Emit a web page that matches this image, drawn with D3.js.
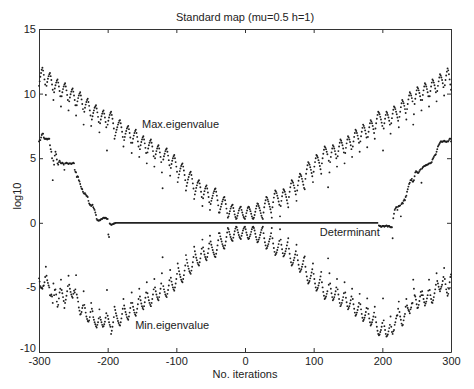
<!DOCTYPE html>
<html>
<head>
<meta charset="utf-8">
<script src="https://cdn.jsdelivr.net/npm/d3@7"></script>
<style>
    body { margin: 0; background: #fff; }
    svg text { font-family: "Liberation Sans", Arial, Helvetica, sans-serif; fill: #222; }
</style>
</head>
<body>
<svg id="viz-svg" width="474" height="389"></svg>
<script>
// Page Variables
let width = 474, height = 389;
let padding = {top: 29, bottom: 37, left: 39, right: 23};

let title = "Standard map (mu=0.5 h=1)";
let xLabel = "No. iterations";
let yLabel = "log10";

let xDomain = [-300, 300];
let yDomain = [-10, 15];
let xTicks = [-300, -200, -100, 0, 100, 200, 300];
let yTicks = [-10, -5, 0, 5, 10, 15];

// each row: [first iteration, value at that iteration, value at next iteration, ...]
let maxEigenRows = [
    [-300, 10.6, 10.95, 11.3, 11.6, 11.85],
    [-295, 12.0, 11.78, 11.45, 11.1, 10.7, 9.9, 10.6, 10.9, 11.15, 11.35, 11.5],
    [-284, 11.6, 11.35, 11.05, 10.7, 10.3, 9.5, 10.1, 10.4, 10.65, 10.85, 11.0],
    [-273, 11.1, 10.85, 10.55, 10.2, 9.8, 9.0, 9.8, 10.1, 10.35, 10.55, 10.7],
    [-262, 10.8, 10.55, 10.25, 9.9, 9.5, 8.7, 9.4, 9.7, 9.95, 10.15, 10.3],
    [-251, 10.4, 10.15, 9.85, 9.5, 9.1, 8.3, 9.1, 9.4, 9.65, 9.85, 10.0],
    [-240, 10.1, 9.85, 9.55, 9.2, 8.8, 7.6, 8.6, 8.9, 9.15, 9.35, 9.5],
    [-229, 9.6, 9.35, 9.05, 8.7, 8.3, 7.5, 8.0, 8.25, 8.5, 8.7, 8.9, 9.0],
    [-217, 9.1, 8.85, 8.55, 8.2, 7.8, 7.0, 7.7, 8.0, 8.25, 8.45, 8.6],
    [-206, 8.7, 8.45, 8.15, 7.8, 7.4, 5.6, 7.6, 7.9, 8.15, 8.35, 8.5],
    [-195, 8.6, 8.35, 8.05, 7.7, 7.3, 6.5, 6.75, 7.0, 7.2, 7.4, 7.6, 7.75, 7.9],
    [-182, 7.95, 7.7, 7.4, 7.05, 6.65, 5.9, 6.4, 6.65, 6.9, 7.1, 7.3, 7.42],
    [-170, 7.5, 7.25, 6.95, 6.6, 6.2, 5.4, 6.2, 6.5, 6.75, 6.95, 7.1],
    [-159, 7.2, 6.95, 6.65, 6.3, 5.9, 5.1, 5.7, 6.0, 6.25, 6.45, 6.6],
    [-148, 6.7, 6.45, 6.15, 5.8, 5.4, 4.6, 5.45, 5.75, 6.0, 6.2, 6.35],
    [-137, 6.45, 6.2, 5.9, 5.55, 5.15, 4.35, 5.0, 5.3, 5.55, 5.75, 5.9],
    [-126, 6.0, 5.75, 5.45, 5.1, 4.7, 3.9, 2.67, 4.9, 5.15, 5.35, 5.55, 5.67],
    [-114, 5.75, 5.5, 5.2, 4.85, 4.45, 3.65, 4.25, 4.55, 4.8, 5.0, 5.15],
    [-103, 5.25, 5.0, 4.7, 4.35, 3.95, 3.15, 3.5, 3.75, 4.0, 4.2, 4.4, 4.52],
    [-91, 4.6, 4.35, 4.05, 3.7, 3.3, 2.5, 2.85, 3.1, 3.35, 3.55, 3.75, 3.87],
    [-79, 3.95, 3.7, 3.4, 3.05, 2.65, 1.85, 2.2, 2.45, 2.7, 2.9, 3.1, 3.22],
    [-67, 3.3, 3.05, 2.75, 2.4, 2.0, 1.3, 1.9, 2.2, 2.45, 2.65, 2.8],
    [-56, 2.9, 2.65, 2.35, 2.0, 1.6, 1.0, 1.45, 1.7, 1.9, 2.1, 2.3, 2.45, 2.6],
    [-43, 2.65, 2.4, 2.1, 1.75, 1.35, 0.8, 0.8, 1.05, 1.25, 1.45, 1.65, 1.8, 1.95],
    [-30, 2.0, 1.75, 1.45, 1.1, 0.75, 0.4, 0.5, 0.7, 0.9, 1.1, 1.25, 1.35],
    [-18, 1.4, 1.15, 0.9, 0.65, 0.45, 0.3, 0.35, 0.55, 0.75, 0.95, 1.1, 1.2],
    [-6, 1.25, 1.0, 0.8, 0.6, 0.45, 0.35, 0.3, 0.5, 0.75, 0.95, 1.15],
    [5, 1.25, 1.2, 1.05, 0.9, 0.7, 0.5, 0.35, 0.3, 0.4, 0.6, 0.85, 1.1, 1.3],
    [18, 1.5, 1.45, 1.3, 1.15, 0.95, 0.75, 0.55, 0.4, 0.3, 0.8, 1.2, 1.5, 1.75],
    [31, 2.0, 1.95, 1.8, 1.65, 1.45, 1.25, 1.05, 0.8, 0.4, 1.2, 1.6, 1.95, 2.25],
    [44, 2.5, 2.42, 2.3, 2.1, 1.9, 1.65, 1.4, 0.5, 1.3, 1.7, 2.05, 2.35],
    [56, 2.6, 2.52, 2.4, 2.2, 2.0, 1.75, 1.5, 1.2, 2.0, 2.4, 2.75, 3.05],
    [68, 3.3, 3.22, 3.1, 2.9, 2.7, 2.45, 2.2, 1.7, 2.5, 2.9, 3.25, 3.55],
    [80, 3.8, 3.72, 3.6, 3.4, 3.2, 2.95, 2.7, 2.6, 3.4, 3.8, 4.15, 4.45],
    [92, 4.7, 4.62, 4.5, 4.3, 4.1, 3.85, 3.6, 3.15, 3.95, 4.35, 4.7, 5.0],
    [104, 5.25, 5.17, 5.05, 4.85, 4.65, 4.4, 4.15, 3.8, 4.6, 5.0, 5.35, 5.65],
    [116, 5.9, 5.82, 5.7, 5.5, 5.3, 2.75, 4.8, 3.9, 4.7, 5.1, 5.45, 5.75],
    [128, 6.0, 5.9, 5.75, 5.55, 5.3, 5.0, 4.35, 5.15, 5.55, 5.9, 6.2],
    [139, 6.45, 6.35, 6.2, 6.0, 5.75, 5.45, 4.6, 5.4, 5.8, 6.15, 6.45],
    [150, 6.7, 6.6, 6.45, 6.25, 6.0, 5.7, 5.1, 5.9, 6.3, 6.65, 6.95],
    [161, 7.2, 7.1, 6.95, 6.75, 6.5, 6.2, 5.5, 6.3, 6.7, 7.05, 7.35],
    [172, 7.6, 7.5, 7.35, 7.15, 6.9, 6.6, 5.85, 6.65, 7.05, 7.4, 7.7],
    [183, 7.95, 7.85, 7.7, 7.5, 7.25, 6.95, 6.5, 7.3, 7.7, 8.05, 8.35],
    [194, 8.6, 8.52, 8.4, 8.2, 8.0, 7.75, 7.5, 5.6, 7.3, 7.7, 8.05, 8.35],
    [206, 8.6, 8.5, 8.35, 8.15, 7.9, 7.6, 6.9, 7.7, 8.1, 8.45, 8.75],
    [217, 9.0, 8.92, 8.8, 8.6, 8.4, 8.15, 7.9, 7.4, 8.2, 8.6, 8.95, 9.25],
    [229, 9.5, 9.4, 9.25, 9.05, 8.8, 8.5, 8.0, 8.8, 9.2, 9.55, 9.85],
    [240, 10.1, 10.0, 9.85, 9.65, 9.4, 7.6, 8.4, 9.2, 9.6, 9.95, 10.25],
    [251, 10.5, 10.4, 10.25, 10.05, 9.8, 9.5, 8.7, 9.5, 9.9, 10.25, 10.55],
    [262, 10.8, 10.7, 10.55, 10.35, 10.1, 9.8, 9.0, 9.8, 10.2, 10.55, 10.85],
    [273, 11.1, 11.0, 10.85, 10.65, 10.4, 10.1, 9.4, 10.2, 10.6, 10.95, 11.25],
    [284, 11.5, 11.4, 11.25, 11.05, 10.8, 10.5, 9.85, 10.65, 11.05, 11.4, 11.7],
    [295, 11.95, 11.8, 11.5, 11.1, 10.7, 10.3]
];

let minEigenRows = [
    [-300, -4.3, -4.55, -4.9, -5.0, -5.05],
    [-295, -5.1, -4.9, -4.85, -4.6, -4.2, -3.4, -4.1, -4.45, -4.65, -4.85, -5.0],
    [-284, -5.6, -5.65, -5.55, -5.7, -6.2, -4.7, -5.6, -5.2, -5.15, -5.55, -6.1],
    [-273, -6.5, -6.35, -5.85, -5.4, -5.1, -4.4, -5.2, -5.45, -5.75, -6.05, -6.6],
    [-262, -6.2, -5.95, -5.65, -5.3, -4.9, -4.1, -4.8, -5.1, -5.35, -5.55, -5.7],
    [-251, -5.8, -5.5, -5.25, -5.4, -5.15, -4.05, -5.55, -5.8, -6.1, -6.55, -6.8],
    [-240, -7.1, -7.05, -6.9, -6.6, -6.4, -5.3, -6.35, -6.6, -6.95, -7.25, -7.45],
    [-229, -7.6, -7.65, -7.55, -7.3, -6.9, -6.2, -6.65, -6.85, -7.3, -7.5, -7.7, -7.85],
    [-217, -8.0, -8.1, -7.9, -7.7, -7.4, -6.7, -7.3, -7.5, -7.7, -7.9, -8.05],
    [-206, -8.0, -7.85, -7.65, -7.35, -7.0, -5.2, -7.2, -7.45, -7.7, -7.9, -8.05],
    [-195, -8.6, -8.35, -8.05, -7.7, -7.3, -6.5, -6.75, -7.0, -7.2, -7.4, -7.6, -7.75, -7.9],
    [-182, -7.95, -7.7, -7.4, -7.05, -6.65, -5.9, -6.4, -6.65, -6.9, -7.1, -7.3, -7.42],
    [-170, -7.5, -7.25, -6.95, -6.6, -6.2, -5.4, -6.2, -6.5, -6.75, -6.95, -7.1],
    [-159, -7.2, -6.95, -6.65, -6.3, -5.9, -5.1, -5.7, -6.0, -6.25, -6.45, -6.6],
    [-148, -6.7, -6.45, -6.15, -5.8, -5.4, -4.6, -5.45, -5.75, -6.0, -6.2, -6.35],
    [-137, -6.45, -6.2, -5.9, -5.55, -5.15, -4.35, -5.0, -5.3, -5.55, -5.75, -5.9],
    [-126, -6.0, -5.75, -5.45, -5.1, -4.7, -3.9, -2.67, -4.9, -5.15, -5.35, -5.55, -5.67],
    [-114, -5.75, -5.5, -5.2, -4.85, -4.45, -3.65, -4.25, -4.55, -4.8, -5.0, -5.15],
    [-103, -5.25, -5.0, -4.7, -4.35, -3.95, -3.15, -3.5, -3.75, -4.0, -4.2, -4.4, -4.52],
    [-91, -4.6, -4.35, -4.05, -3.7, -3.3, -2.5, -2.85, -3.1, -3.35, -3.55, -3.75, -3.87],
    [-79, -3.95, -3.7, -3.4, -3.05, -2.65, -1.85, -2.2, -2.45, -2.7, -2.9, -3.1, -3.22],
    [-67, -3.3, -3.05, -2.75, -2.4, -2.0, -1.3, -1.9, -2.2, -2.45, -2.65, -2.8],
    [-56, -2.9, -2.65, -2.35, -2.0, -1.6, -1.0, -1.45, -1.7, -1.9, -2.1, -2.3, -2.45, -2.6],
    [-43, -2.65, -2.4, -2.1, -1.75, -1.35, -0.8, -0.8, -1.05, -1.25, -1.45, -1.65, -1.8, -1.95],
    [-30, -2.0, -1.75, -1.45, -1.1, -0.75, -0.4, -0.5, -0.7, -0.9, -1.1, -1.25, -1.35],
    [-18, -1.4, -1.15, -0.9, -0.65, -0.45, -0.3, -0.35, -0.55, -0.75, -0.95, -1.1, -1.2],
    [-6, -1.25, -1.0, -0.8, -0.6, -0.45, -0.35, -0.3, -0.5, -0.75, -0.95, -1.15],
    [5, -1.25, -1.2, -1.05, -0.9, -0.7, -0.5, -0.35, -0.3, -0.4, -0.6, -0.85, -1.1, -1.3],
    [18, -1.5, -1.45, -1.3, -1.15, -0.95, -0.75, -0.55, -0.4, -0.3, -0.8, -1.2, -1.5, -1.75],
    [31, -2.0, -1.95, -1.8, -1.65, -1.45, -1.25, -1.05, -0.8, -0.4, -1.2, -1.6, -1.95, -2.25],
    [44, -2.5, -2.42, -2.3, -2.1, -1.9, -1.65, -1.4, -0.5, -1.3, -1.7, -2.05, -2.35],
    [56, -2.6, -2.52, -2.4, -2.2, -2.0, -1.75, -1.5, -1.2, -2.0, -2.4, -2.75, -3.05],
    [68, -3.3, -3.22, -3.1, -2.9, -2.7, -2.45, -2.2, -1.7, -2.5, -2.9, -3.25, -3.55],
    [80, -3.8, -3.72, -3.6, -3.4, -3.2, -2.95, -2.7, -2.6, -3.4, -3.8, -4.15, -4.45],
    [92, -4.7, -4.62, -4.5, -4.3, -4.1, -3.85, -3.6, -3.15, -3.95, -4.35, -4.7, -5.0],
    [104, -5.25, -5.17, -5.05, -4.85, -4.65, -4.4, -4.15, -3.8, -4.6, -5.0, -5.35, -5.65],
    [116, -5.9, -5.82, -5.7, -5.5, -5.3, -2.75, -4.8, -3.9, -4.7, -5.1, -5.45, -5.75],
    [128, -6.0, -5.9, -5.75, -5.55, -5.3, -5.0, -4.35, -5.15, -5.55, -5.9, -6.2],
    [139, -6.45, -6.35, -6.2, -6.0, -5.75, -5.45, -4.6, -5.4, -5.8, -6.15, -6.45],
    [150, -6.7, -6.6, -6.45, -6.25, -6.0, -5.7, -5.1, -5.9, -6.3, -6.65, -6.95],
    [161, -7.2, -7.1, -6.95, -6.75, -6.5, -6.2, -5.5, -6.3, -6.7, -7.05, -7.35],
    [172, -7.6, -7.5, -7.35, -7.15, -6.9, -6.6, -5.85, -6.65, -7.05, -7.4, -7.7],
    [183, -7.95, -7.85, -7.7, -7.5, -7.25, -6.95, -6.5, -7.3, -7.7, -8.05, -8.35],
    [194, -8.6, -8.7, -8.65, -8.45, -8.3, -8.05, -7.75, -5.85, -7.55, -8.0, -8.3, -8.6],
    [206, -8.8, -8.75, -8.65, -8.4, -8.15, -7.9, -7.25, -8.05, -8.45, -8.6, -8.4],
    [217, -8.3, -7.9, -7.7, -7.4, -7.2, -7.15, -6.65, -6.1, -6.9, -7.25, -7.5, -7.8],
    [229, -7.95, -7.9, -7.55, -7.25, -7.05, -6.5, -5.9, -6.4, -6.6, -6.75, -6.85],
    [240, -7.0, -6.7, -6.55, -6.25, -6.2, -4.4, -5.1, -5.6, -5.7, -5.95, -6.3],
    [251, -6.6, -6.55, -6.35, -6.05, -5.7, -5.35, -5.6, -5.3, -5.6, -5.9, -6.15],
    [262, -6.4, -6.25, -6.1, -5.85, -5.6, -5.25, -4.4, -5.2, -5.6, -5.9, -6.15],
    [273, -6.2, -6.0, -5.75, -5.45, -5.15, -4.8, -3.9, -4.5, -4.7, -4.95, -5.15],
    [284, -5.3, -5.1, -4.95, -4.8, -4.5, -4.2, -3.5, -4.35, -4.75, -5.15, -5.4],
    [295, -5.65, -5.5, -5.1, -4.6, -4.2, -4.0]
];

let determinantRows = [
    [-300, 6.3, 6.4, 6.4, 6.6, 6.8, 6.9, 6.9, 6.6, 6.5, 6.5],
    [-290, 6.5, 6.5, 6.45, 6.5, 6.5, 6.5, 6.0, 5.7, 5.5, 5.0],
    [-280, 3.3, 4.8, 4.5, 5.2, 5.5, 5.3, 4.9, 4.6, 4.5, 4.7],
    [-270, 4.8, 4.7, 4.6, 4.6, 4.65, 4.6, 4.5, 4.1, 4.6, 4.6],
    [-260, 4.65, 4.6, 4.6, 4.55, 4.6, 4.6, 4.6, 4.55, 4.6, 4.6],
    [-250, 4.65, 4.6, 4.1, 3.95, 3.9, 3.55, 3.6, 3.55, 3.3, 3.2],
    [-240, 3.0, 2.8, 2.65, 2.6, 2.4, 2.3, 2.25, 2.3, 2.2, 2.1],
    [-230, 2.05, 2.0, 1.7, 1.5, 1.4, 1.4, 1.3, 1.35, 1.4, 1.2],
    [-220, 1.1, 1.0, 0.8, 0.6, 0.3, 0.2, 0.2, 0.15, 0.2, 0.2],
    [-210, 0.25, 0.3, 0.3, 0.35, 0.4, 0.4, 0.35, 0.4, 0.35, 0.3],
    [-200, 0.3, -0.9, -1.1, -0.05, -0.1, -0.15, -0.15, -0.1, -0.1, -0.05],
    [-190, -0.05, -0.02],
    [195, -0.2, -0.25, -0.25, -0.3, -0.3, -0.25, -0.25, -0.25, -0.3, -0.25],
    [205, -0.25, -0.2, -0.25, -0.3, -0.25, -0.25, -0.3, -0.35, -0.35, -0.35],
    [215, -1.2, 0.35, 0.7, 1.0, 1.1, 1.2, 1.2, 1.0, 1.25, 1.3],
    [225, 1.3, 1.35, 0.5, 1.45, 1.55, 1.5, 1.7, 1.8, 1.75, 2.0],
    [235, 2.1, 2.4, 2.6, 2.8, 3.0, 3.1, 3.3, 3.3, 3.4, 3.2],
    [245, 3.2, 3.3, 3.6, 3.9, 4.0, 3.95, 3.9, 3.85, 3.9, 4.0],
    [255, 4.1, 4.15, 3.1, 4.2, 4.3, 4.35, 4.4, 4.4, 4.45, 4.45],
    [265, 4.5, 4.5, 4.55, 4.6, 4.6, 4.6, 4.65, 4.7, 4.9, 5.0],
    [275, 5.1, 5.2, 5.25, 5.3, 5.5, 5.7, 5.9, 6.0, 6.1, 6.2],
    [285, 6.3, 6.3, 6.25, 6.3, 6.3, 6.35, 6.3, 6.3, 6.25, 6.3],
    [295, 6.3, 6.3, 6.4, 6.5, 6.5, 6.3]
];

// determinant stays at log10 = 0 over the middle stretch
let determinantFlat = [[-189, 0], [194, 0]];

let annotations = [
    {text: "Max.eigenvalue", it: -150, v: 7.3},
    {text: "Determinant", it: 109, v: -1.05},
    {text: "Min.eigenvalue", it: -160, v: -8.25},
];

// rows -> points
function toPoints(rows) {
    return rows.flatMap(r => r.slice(1).map((v, k) => ({it: r[0] + k, v: v})));
}

// plain hyphen for negative tick labels, like the original print
let plainFormat = d => String(d);

let xScale = d3.scaleLinear().domain(xDomain).range([padding.left, width - padding.right]);
let yScale = d3.scaleLinear().domain(yDomain).range([height - padding.bottom, padding.top]);

let svg = d3.select('#viz-svg');

// axes, ticks pointing inwards on all four sides
svg.append('g')
    .attr('class', 'axis axis--x')
    .attr('transform', 'translate(0,' + (height - padding.bottom) + ')')
    .call(d3.axisBottom(xScale).tickValues(xTicks).tickFormat(plainFormat)
        .tickSizeInner(-4).tickSizeOuter(0).tickPadding(5));
svg.append('g')
    .attr('class', 'axis axis--top')
    .attr('transform', 'translate(0,' + padding.top + ')')
    .call(d3.axisTop(xScale).tickValues(xTicks).tickSizeInner(-4).tickSizeOuter(0).tickFormat(''));
svg.append('g')
    .attr('class', 'axis axis--y')
    .attr('transform', 'translate(' + padding.left + ',0)')
    .call(d3.axisLeft(yScale).tickValues(yTicks).tickFormat(plainFormat)
        .tickSizeInner(-4).tickSizeOuter(0).tickPadding(3));
svg.append('g')
    .attr('class', 'axis axis--right')
    .attr('transform', 'translate(' + (width - padding.right) + ',0)')
    .call(d3.axisRight(yScale).tickValues(yTicks).tickSizeInner(-4).tickSizeOuter(0).tickFormat(''));

svg.selectAll('.axis path, .axis line').attr('stroke', '#333');
svg.selectAll('.axis text')
    .style('font-size', '11px')
    .attr('fill', '#222');

// lowest y label sits a bit higher so it clears the -300 label
svg.selectAll('.axis--y .tick text')
    .filter(d => d === yDomain[0])
    .attr('dy', '-0.05em');

// flat part of the determinant
svg.append('path')
    .datum(determinantFlat)
    .attr('fill', 'none')
    .attr('stroke', '#222')
    .attr('stroke-width', 1.8)
    .attr('d', d3.line().x(d => xScale(d[0])).y(d => yScale(d[1])));

// dots for every series
let series = [maxEigenRows, minEigenRows, determinantRows];
series.forEach((rows, i) => {
    svg.append('g')
        .attr('class', 'series-' + i)
        .selectAll('circle')
        .data(toPoints(rows))
        .enter()
        .append('circle')
        .attr('cx', d => xScale(d.it))
        .attr('cy', d => yScale(d.v))
        .attr('r', 0.95)
        .attr('fill', '#1e1e1e');
});

// texts
svg.append('text')
    .attr('x', xScale(0))
    .attr('y', 20.5)
    .attr('text-anchor', 'middle')
    .style('font-size', '11px')
    .text(title);

svg.append('text')
    .attr('x', xScale(0))
    .attr('y', 378)
    .attr('text-anchor', 'middle')
    .style('font-size', '11px')
    .text(xLabel);

svg.append('text')
    .attr('transform', 'translate(21,196) rotate(-90)')
    .attr('text-anchor', 'middle')
    .style('font-size', '11px')
    .text(yLabel);

svg.selectAll('.note')
    .data(annotations)
    .enter()
    .append('text')
    .attr('class', 'note')
    .attr('x', d => xScale(d.it))
    .attr('y', d => yScale(d.v))
    .style('font-size', '11px')
    .text(d => d.text);
</script>
</body>
</html>
